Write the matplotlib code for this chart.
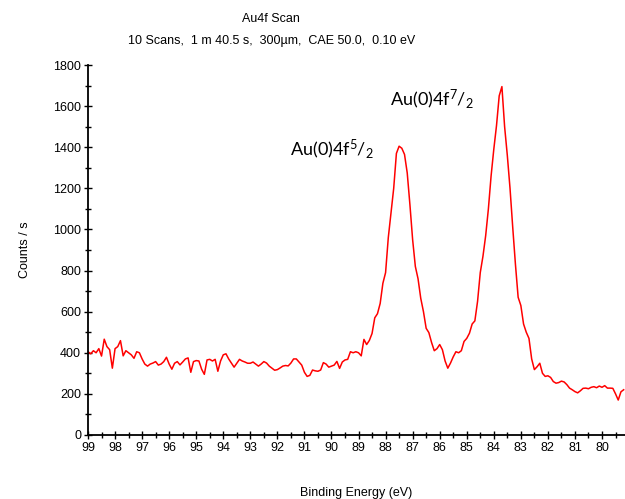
import matplotlib.pyplot as plt
import numpy as np
from matplotlib.ticker import AutoMinorLocator, MultipleLocator

# binding energy grid 99.0 -> 79.2 eV, 0.1 eV step
START_EV = 99.0
STEP_EV = 0.1

COUNTS = [
    # 99.0 - 89.0
    405, 395, 410, 400, 420, 384, 466, 430, 415, 325,
    420, 430, 459, 385, 410, 400, 390, 373, 405, 400,
    370, 345, 335, 345, 350, 357, 340, 345, 357, 378,
    345, 320, 349, 357, 341, 355, 370, 375, 305, 357,
    362, 360, 320, 295, 365, 368, 360, 368, 310, 360,
    390, 395, 370, 350, 330, 349, 368, 360, 355, 349,
    349, 355, 345, 335, 345, 357, 350, 335, 325, 315,
    318, 326, 335, 338, 336, 350, 370, 370, 355, 340,
    305, 285, 290, 316, 312, 310, 316, 352, 345, 330,
    335, 340, 358, 324, 355, 365, 368, 405, 400, 405,
    400,
    # 88.9 - 79.2
    385, 465, 440, 460, 494, 570, 590, 640, 738, 790,
    960, 1080, 1200, 1370, 1405, 1395, 1365, 1275, 1120, 950,
    820, 760, 665, 600, 519, 498, 450, 410, 420, 440,
    415, 360, 325, 350, 380, 405, 400, 410, 455, 470,
    495, 540, 555, 650, 790, 870, 970, 1100, 1260, 1390,
    1505, 1650, 1695, 1500, 1360, 1200, 1010, 830, 670, 630,
    540, 500, 470, 370, 318, 332, 349, 300, 285, 288,
    280, 260, 252, 255, 262, 258, 245, 228, 220, 211,
    205, 215, 227, 228, 225, 232, 235, 230, 238, 232,
    240, 228, 228, 227, 200, 170, 210, 220,
]

TITLE = "Au4f Scan"
SUBTITLE = "10 Scans,  1 m 40.5 s,  300µm,  CAE 50.0,  0.10 eV"
PEAK_LABELS = [r"Au(0)4f$^{5}$/$_{2}$", r"Au(0)4f$^{7}$/$_{2}$"]
PEAK_LABEL_POS = [(91.53, 1362), (87.83, 1605)]

plt.rcParams["font.family"] = ["Liberation Sans", "DejaVu Sans"]
plt.rcParams["mathtext.fontset"] = "custom"
plt.rcParams["mathtext.rm"] = "Lato"
plt.rcParams["mathtext.it"] = "Lato"

energy = START_EV - STEP_EV * np.arange(len(COUNTS))

fig = plt.figure(figsize=(6.25, 4.99), dpi=100)
ax = fig.add_axes([0.1408, 0.1283, 0.8592, 0.7414])

ax.plot(energy, COUNTS, color="#ff0000", linewidth=1.1)

ax.set_xlim(99, 79.15)
ax.set_ylim(0, 1800)
ax.xaxis.set_minor_locator(AutoMinorLocator(2))
ax.yaxis.set_major_locator(MultipleLocator(200))
ax.yaxis.set_minor_locator(AutoMinorLocator(2))
ax.set_xticks(np.arange(99, 79.5, -1))
ax.xaxis.set_minor_locator(MultipleLocator(0.5))
ax.tick_params(which="major", direction="inout", length=6, width=1,
               labelsize=9, pad=2)
ax.tick_params(which="minor", direction="inout", length=4, width=1)

for side in ["top", "right"]:
    ax.spines[side].set_visible(False)
for side in ["left", "bottom"]:
    ax.spines[side].set_linewidth(1.3)

ax.set_xlabel("Binding Energy (eV)", fontsize=9, labelpad=24)
ax.set_ylabel("Counts / s", fontsize=9, labelpad=16)

for label, (x, y) in zip(PEAK_LABELS, PEAK_LABEL_POS):
    ax.text(x, y, label, fontsize=13, family="Lato", color="black")

fig.text(0.434, 0.962, TITLE, ha="center", va="center", fontsize=9)
fig.text(0.434, 0.918, SUBTITLE, ha="center", va="center", fontsize=9)

fig.savefig("out.png", dpi=100)
